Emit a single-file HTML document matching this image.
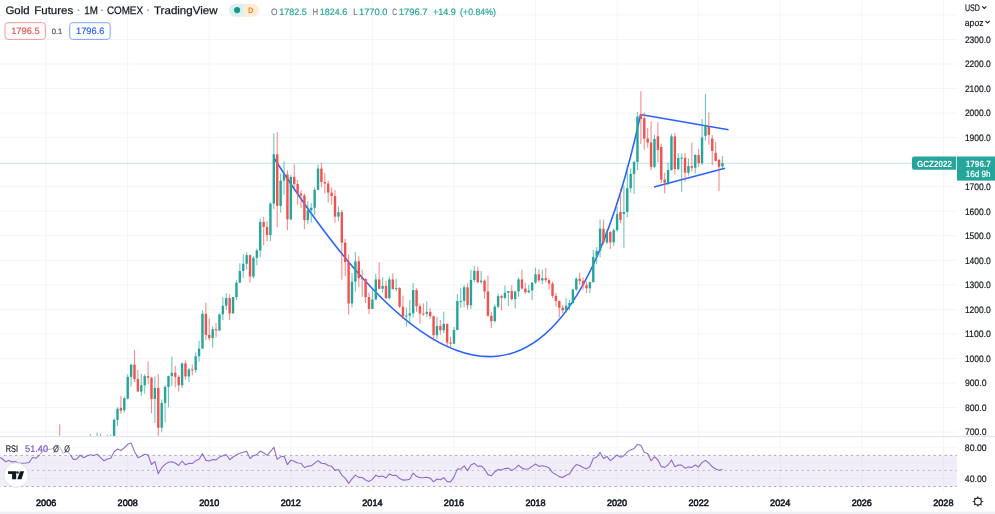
<!DOCTYPE html>
<html><head><meta charset="utf-8"><title>Gold Futures</title>
<style>
html,body{margin:0;padding:0;background:#fff;}
body{width:995px;height:514px;overflow:hidden;position:relative;font-family:"Liberation Sans",sans-serif;color:#131722;}
svg{position:absolute;left:0;top:0;font-family:"Liberation Sans",sans-serif;will-change:transform;text-rendering:geometricPrecision;}
</style></head><body>
<svg width="995" height="514" viewBox="0 0 995 514">
<defs><clipPath id="mainclip"><rect x="0" y="0" width="957" height="436.5"/></clipPath>
<clipPath id="rsiclip"><rect x="0" y="436.5" width="957" height="53.5"/></clipPath></defs>
<line x1="0" x2="957" y1="14.91" y2="14.91" stroke="#f4f5f8" stroke-width="1"/>
<line x1="0" x2="957" y1="39.45" y2="39.45" stroke="#f4f5f8" stroke-width="1"/>
<line x1="0" x2="957" y1="63.99" y2="63.99" stroke="#f4f5f8" stroke-width="1"/>
<line x1="0" x2="957" y1="88.53" y2="88.53" stroke="#f4f5f8" stroke-width="1"/>
<line x1="0" x2="957" y1="113.07" y2="113.07" stroke="#f4f5f8" stroke-width="1"/>
<line x1="0" x2="957" y1="137.61" y2="137.61" stroke="#f4f5f8" stroke-width="1"/>
<line x1="0" x2="957" y1="162.15" y2="162.15" stroke="#f4f5f8" stroke-width="1"/>
<line x1="0" x2="957" y1="186.69" y2="186.69" stroke="#f4f5f8" stroke-width="1"/>
<line x1="0" x2="957" y1="211.23" y2="211.23" stroke="#f4f5f8" stroke-width="1"/>
<line x1="0" x2="957" y1="235.77" y2="235.77" stroke="#f4f5f8" stroke-width="1"/>
<line x1="0" x2="957" y1="260.31" y2="260.31" stroke="#f4f5f8" stroke-width="1"/>
<line x1="0" x2="957" y1="284.85" y2="284.85" stroke="#f4f5f8" stroke-width="1"/>
<line x1="0" x2="957" y1="309.39" y2="309.39" stroke="#f4f5f8" stroke-width="1"/>
<line x1="0" x2="957" y1="333.93" y2="333.93" stroke="#f4f5f8" stroke-width="1"/>
<line x1="0" x2="957" y1="358.47" y2="358.47" stroke="#f4f5f8" stroke-width="1"/>
<line x1="0" x2="957" y1="383.01" y2="383.01" stroke="#f4f5f8" stroke-width="1"/>
<line x1="0" x2="957" y1="407.55" y2="407.55" stroke="#f4f5f8" stroke-width="1"/>
<line x1="0" x2="957" y1="432.09" y2="432.09" stroke="#f4f5f8" stroke-width="1"/>
<line x1="0" x2="957" y1="447.28" y2="447.28" stroke="#f7f8fa" stroke-width="1"/>
<line x1="0" x2="957" y1="462.83" y2="462.83" stroke="#f7f8fa" stroke-width="1"/>
<line x1="0" x2="957" y1="478.38" y2="478.38" stroke="#f7f8fa" stroke-width="1"/>
<line x1="46.14" x2="46.14" y1="0" y2="491.5" stroke="#f4f5f8" stroke-width="1"/>
<line x1="127.70" x2="127.70" y1="0" y2="491.5" stroke="#f4f5f8" stroke-width="1"/>
<line x1="209.26" x2="209.26" y1="0" y2="491.5" stroke="#f4f5f8" stroke-width="1"/>
<line x1="290.83" x2="290.83" y1="0" y2="491.5" stroke="#f4f5f8" stroke-width="1"/>
<line x1="372.39" x2="372.39" y1="0" y2="491.5" stroke="#f4f5f8" stroke-width="1"/>
<line x1="453.96" x2="453.96" y1="0" y2="491.5" stroke="#f4f5f8" stroke-width="1"/>
<line x1="535.52" x2="535.52" y1="0" y2="491.5" stroke="#f4f5f8" stroke-width="1"/>
<line x1="617.08" x2="617.08" y1="0" y2="491.5" stroke="#f4f5f8" stroke-width="1"/>
<line x1="698.65" x2="698.65" y1="0" y2="491.5" stroke="#f4f5f8" stroke-width="1"/>
<line x1="780.21" x2="780.21" y1="0" y2="491.5" stroke="#f4f5f8" stroke-width="1"/>
<line x1="861.78" x2="861.78" y1="0" y2="491.5" stroke="#f4f5f8" stroke-width="1"/>
<line x1="943.34" x2="943.34" y1="0" y2="491.5" stroke="#f4f5f8" stroke-width="1"/>
<line x1="0" x2="912" y1="163.5" y2="163.5" stroke="#26a69a" stroke-width="1" opacity="0.23"/>
<g clip-path="url(#mainclip)"><path d="M274.3,158.5 Q539.6,575.4 640.5,115" fill="none" stroke="#2962ff" stroke-width="1.55"/></g>
<line x1="640.5" y1="114.5" x2="728.5" y2="129.7" stroke="#2962ff" stroke-width="1.55"/>
<line x1="654" y1="186.9" x2="725" y2="168.2" stroke="#2962ff" stroke-width="1.55"/>
<g clip-path="url(#mainclip)"><rect x="59.18" y="424.24" width="1.1" height="23.56" fill="#ef5350" opacity="0.65"/><rect x="58.53" y="441.91" width="2.4" height="3.68" fill="#ef5350"/><rect x="62.58" y="444.36" width="1.1" height="25.52" fill="#ef5350" opacity="0.65"/><rect x="61.93" y="445.59" width="2.4" height="7.12" fill="#ef5350"/><rect x="65.98" y="437.00" width="1.1" height="18.41" fill="#26a69a" opacity="0.65"/><rect x="65.33" y="444.36" width="2.4" height="8.34" fill="#26a69a"/><rect x="69.38" y="441.91" width="1.1" height="11.04" fill="#ef5350" opacity="0.65"/><rect x="68.73" y="444.36" width="2.4" height="3.93" fill="#ef5350"/><rect x="72.77" y="445.59" width="1.1" height="17.18" fill="#ef5350" opacity="0.65"/><rect x="72.12" y="448.29" width="2.4" height="7.36" fill="#ef5350"/><rect x="76.17" y="453.44" width="1.1" height="12.27" fill="#26a69a" opacity="0.65"/><rect x="75.52" y="454.91" width="2.4" height="1.00" fill="#26a69a"/><rect x="79.57" y="444.36" width="1.1" height="9.82" fill="#26a69a" opacity="0.65"/><rect x="78.92" y="443.87" width="2.4" height="11.04" fill="#26a69a"/><rect x="82.97" y="443.13" width="1.1" height="9.82" fill="#ef5350" opacity="0.65"/><rect x="82.32" y="443.87" width="2.4" height="3.44" fill="#ef5350"/><rect x="86.37" y="441.91" width="1.1" height="13.99" fill="#26a69a" opacity="0.65"/><rect x="85.72" y="442.64" width="2.4" height="4.42" fill="#26a69a"/><rect x="89.77" y="434.05" width="1.1" height="12.27" fill="#26a69a" opacity="0.65"/><rect x="89.12" y="438.96" width="2.4" height="3.68" fill="#26a69a"/><rect x="93.17" y="438.23" width="1.1" height="10.06" fill="#ef5350" opacity="0.65"/><rect x="92.52" y="438.96" width="2.4" height="1.00" fill="#ef5350"/><rect x="96.56" y="432.58" width="1.1" height="9.33" fill="#26a69a" opacity="0.65"/><rect x="95.91" y="436.26" width="2.4" height="3.44" fill="#26a69a"/><rect x="99.96" y="433.56" width="1.1" height="10.80" fill="#ef5350" opacity="0.65"/><rect x="99.31" y="436.26" width="2.4" height="4.17" fill="#ef5350"/><rect x="103.36" y="437.73" width="1.1" height="9.33" fill="#ef5350" opacity="0.65"/><rect x="102.71" y="440.43" width="2.4" height="3.93" fill="#ef5350"/><rect x="106.76" y="434.79" width="1.1" height="10.06" fill="#26a69a" opacity="0.65"/><rect x="106.11" y="440.43" width="2.4" height="3.93" fill="#26a69a"/><rect x="110.16" y="434.54" width="1.1" height="11.78" fill="#26a69a" opacity="0.65"/><rect x="109.51" y="438.72" width="2.4" height="1.72" fill="#26a69a"/><rect x="113.56" y="418.59" width="1.1" height="20.37" fill="#26a69a" opacity="0.65"/><rect x="112.91" y="419.82" width="2.4" height="18.90" fill="#26a69a"/><rect x="116.95" y="407.30" width="1.1" height="18.65" fill="#26a69a" opacity="0.65"/><rect x="116.30" y="408.78" width="2.4" height="11.04" fill="#26a69a"/><rect x="120.35" y="395.77" width="1.1" height="17.91" fill="#ef5350" opacity="0.65"/><rect x="119.70" y="407.80" width="2.4" height="2.94" fill="#ef5350"/><rect x="123.75" y="396.51" width="1.1" height="15.95" fill="#26a69a" opacity="0.65"/><rect x="123.10" y="398.22" width="2.4" height="12.02" fill="#26a69a"/><rect x="127.15" y="374.18" width="1.1" height="25.03" fill="#26a69a" opacity="0.65"/><rect x="126.50" y="376.88" width="2.4" height="21.84" fill="#26a69a"/><rect x="130.55" y="364.36" width="1.1" height="22.33" fill="#26a69a" opacity="0.65"/><rect x="129.90" y="364.61" width="2.4" height="12.27" fill="#26a69a"/><rect x="133.95" y="350.13" width="1.1" height="31.90" fill="#ef5350" opacity="0.65"/><rect x="133.30" y="364.61" width="2.4" height="14.48" fill="#ef5350"/><rect x="137.35" y="370.00" width="1.1" height="20.37" fill="#ef5350" opacity="0.65"/><rect x="136.70" y="379.08" width="2.4" height="12.52" fill="#ef5350"/><rect x="140.74" y="373.93" width="1.1" height="22.33" fill="#26a69a" opacity="0.65"/><rect x="140.09" y="385.22" width="2.4" height="6.38" fill="#26a69a"/><rect x="144.14" y="374.18" width="1.1" height="19.39" fill="#26a69a" opacity="0.65"/><rect x="143.49" y="376.14" width="2.4" height="9.08" fill="#26a69a"/><rect x="147.54" y="361.41" width="1.1" height="22.82" fill="#ef5350" opacity="0.65"/><rect x="146.89" y="376.14" width="2.4" height="1.47" fill="#ef5350"/><rect x="150.94" y="376.88" width="1.1" height="36.32" fill="#ef5350" opacity="0.65"/><rect x="150.29" y="377.61" width="2.4" height="21.35" fill="#ef5350"/><rect x="154.34" y="376.63" width="1.1" height="46.38" fill="#26a69a" opacity="0.65"/><rect x="153.69" y="387.92" width="2.4" height="11.04" fill="#26a69a"/><rect x="157.74" y="374.18" width="1.1" height="62.58" fill="#ef5350" opacity="0.65"/><rect x="157.09" y="387.92" width="2.4" height="39.75" fill="#ef5350"/><rect x="161.13" y="399.45" width="1.1" height="32.88" fill="#26a69a" opacity="0.65"/><rect x="160.49" y="402.89" width="2.4" height="24.79" fill="#26a69a"/><rect x="164.53" y="384.97" width="1.1" height="37.06" fill="#26a69a" opacity="0.65"/><rect x="163.88" y="386.94" width="2.4" height="15.95" fill="#26a69a"/><rect x="167.93" y="375.65" width="1.1" height="31.66" fill="#26a69a" opacity="0.65"/><rect x="167.28" y="376.14" width="2.4" height="10.80" fill="#26a69a"/><rect x="171.33" y="356.75" width="1.1" height="29.20" fill="#26a69a" opacity="0.65"/><rect x="170.68" y="372.70" width="2.4" height="3.44" fill="#26a69a"/><rect x="174.73" y="365.83" width="1.1" height="21.60" fill="#ef5350" opacity="0.65"/><rect x="174.08" y="372.70" width="2.4" height="4.17" fill="#ef5350"/><rect x="178.13" y="375.16" width="1.1" height="16.44" fill="#ef5350" opacity="0.65"/><rect x="177.48" y="376.88" width="2.4" height="8.34" fill="#ef5350"/><rect x="181.53" y="362.64" width="1.1" height="25.28" fill="#26a69a" opacity="0.65"/><rect x="180.88" y="363.38" width="2.4" height="21.84" fill="#26a69a"/><rect x="184.92" y="360.43" width="1.1" height="19.39" fill="#ef5350" opacity="0.65"/><rect x="184.27" y="363.38" width="2.4" height="13.01" fill="#ef5350"/><rect x="188.32" y="368.04" width="1.1" height="13.99" fill="#26a69a" opacity="0.65"/><rect x="187.67" y="369.51" width="2.4" height="6.87" fill="#26a69a"/><rect x="191.72" y="364.61" width="1.1" height="10.80" fill="#ef5350" opacity="0.65"/><rect x="191.07" y="369.51" width="2.4" height="1.00" fill="#ef5350"/><rect x="195.12" y="352.33" width="1.1" height="20.37" fill="#26a69a" opacity="0.65"/><rect x="194.47" y="356.26" width="2.4" height="13.74" fill="#26a69a"/><rect x="198.52" y="340.80" width="1.1" height="21.10" fill="#26a69a" opacity="0.65"/><rect x="197.87" y="348.65" width="2.4" height="7.61" fill="#26a69a"/><rect x="201.92" y="310.37" width="1.1" height="37.79" fill="#26a69a" opacity="0.65"/><rect x="201.27" y="313.81" width="2.4" height="34.85" fill="#26a69a"/><rect x="205.32" y="302.76" width="1.1" height="37.30" fill="#ef5350" opacity="0.65"/><rect x="204.67" y="313.81" width="2.4" height="21.10" fill="#ef5350"/><rect x="208.71" y="318.47" width="1.1" height="21.84" fill="#ef5350" opacity="0.65"/><rect x="208.06" y="334.91" width="2.4" height="3.19" fill="#ef5350"/><rect x="212.11" y="326.32" width="1.1" height="21.35" fill="#26a69a" opacity="0.65"/><rect x="211.46" y="329.27" width="2.4" height="8.83" fill="#26a69a"/><rect x="215.51" y="322.89" width="1.1" height="14.72" fill="#ef5350" opacity="0.65"/><rect x="214.86" y="329.27" width="2.4" height="1.23" fill="#ef5350"/><rect x="218.91" y="313.56" width="1.1" height="17.67" fill="#26a69a" opacity="0.65"/><rect x="218.26" y="314.30" width="2.4" height="16.20" fill="#26a69a"/><rect x="222.31" y="297.37" width="1.1" height="22.58" fill="#26a69a" opacity="0.65"/><rect x="221.66" y="305.71" width="2.4" height="8.59" fill="#26a69a"/><rect x="225.71" y="293.19" width="1.1" height="16.69" fill="#26a69a" opacity="0.65"/><rect x="225.06" y="298.10" width="2.4" height="7.61" fill="#26a69a"/><rect x="229.10" y="294.18" width="1.1" height="26.01" fill="#ef5350" opacity="0.65"/><rect x="228.46" y="298.10" width="2.4" height="15.21" fill="#ef5350"/><rect x="232.50" y="296.87" width="1.1" height="16.69" fill="#26a69a" opacity="0.65"/><rect x="231.85" y="297.12" width="2.4" height="16.20" fill="#26a69a"/><rect x="235.90" y="280.43" width="1.1" height="19.63" fill="#26a69a" opacity="0.65"/><rect x="235.25" y="282.64" width="2.4" height="14.48" fill="#26a69a"/><rect x="239.30" y="263.25" width="1.1" height="19.88" fill="#26a69a" opacity="0.65"/><rect x="238.65" y="270.86" width="2.4" height="11.78" fill="#26a69a"/><rect x="242.70" y="254.18" width="1.1" height="23.56" fill="#26a69a" opacity="0.65"/><rect x="242.05" y="263.75" width="2.4" height="7.12" fill="#26a69a"/><rect x="246.10" y="252.46" width="1.1" height="17.18" fill="#26a69a" opacity="0.65"/><rect x="245.45" y="255.16" width="2.4" height="8.59" fill="#26a69a"/><rect x="249.50" y="254.42" width="1.1" height="28.22" fill="#ef5350" opacity="0.65"/><rect x="248.85" y="255.16" width="2.4" height="21.35" fill="#ef5350"/><rect x="252.89" y="255.89" width="1.1" height="22.58" fill="#26a69a" opacity="0.65"/><rect x="252.24" y="257.86" width="2.4" height="18.65" fill="#26a69a"/><rect x="256.29" y="248.53" width="1.1" height="16.69" fill="#26a69a" opacity="0.65"/><rect x="255.64" y="250.49" width="2.4" height="7.36" fill="#26a69a"/><rect x="259.69" y="218.59" width="1.1" height="38.53" fill="#26a69a" opacity="0.65"/><rect x="259.04" y="222.03" width="2.4" height="28.47" fill="#26a69a"/><rect x="263.09" y="216.87" width="1.1" height="28.22" fill="#ef5350" opacity="0.65"/><rect x="262.44" y="222.03" width="2.4" height="4.91" fill="#ef5350"/><rect x="266.49" y="221.29" width="1.1" height="19.88" fill="#ef5350" opacity="0.65"/><rect x="265.84" y="226.94" width="2.4" height="8.10" fill="#ef5350"/><rect x="269.89" y="202.15" width="1.1" height="39.02" fill="#26a69a" opacity="0.65"/><rect x="269.24" y="203.62" width="2.4" height="31.41" fill="#26a69a"/><rect x="273.29" y="133.44" width="1.1" height="75.83" fill="#26a69a" opacity="0.65"/><rect x="272.64" y="154.30" width="2.4" height="49.33" fill="#26a69a"/><rect x="276.68" y="131.97" width="1.1" height="95.22" fill="#ef5350" opacity="0.65"/><rect x="276.03" y="154.30" width="2.4" height="51.53" fill="#ef5350"/><rect x="280.08" y="173.44" width="1.1" height="39.02" fill="#26a69a" opacity="0.65"/><rect x="279.43" y="180.56" width="2.4" height="25.28" fill="#26a69a"/><rect x="283.48" y="161.17" width="1.1" height="33.62" fill="#26a69a" opacity="0.65"/><rect x="282.83" y="174.42" width="2.4" height="6.13" fill="#26a69a"/><rect x="286.88" y="170.25" width="1.1" height="59.88" fill="#ef5350" opacity="0.65"/><rect x="286.23" y="174.42" width="2.4" height="44.91" fill="#ef5350"/><rect x="290.28" y="175.16" width="1.1" height="45.15" fill="#26a69a" opacity="0.65"/><rect x="289.63" y="176.87" width="2.4" height="42.45" fill="#26a69a"/><rect x="293.68" y="164.11" width="1.1" height="25.28" fill="#ef5350" opacity="0.65"/><rect x="293.03" y="176.87" width="2.4" height="7.12" fill="#ef5350"/><rect x="297.07" y="180.06" width="1.1" height="24.54" fill="#ef5350" opacity="0.65"/><rect x="296.43" y="183.99" width="2.4" height="9.57" fill="#ef5350"/><rect x="300.47" y="190.37" width="1.1" height="17.67" fill="#ef5350" opacity="0.65"/><rect x="299.82" y="193.56" width="2.4" height="1.96" fill="#ef5350"/><rect x="303.87" y="193.56" width="1.1" height="35.58" fill="#ef5350" opacity="0.65"/><rect x="303.22" y="195.52" width="2.4" height="24.54" fill="#ef5350"/><rect x="307.27" y="200.92" width="1.1" height="23.07" fill="#26a69a" opacity="0.65"/><rect x="306.62" y="210.25" width="2.4" height="9.82" fill="#26a69a"/><rect x="310.67" y="203.13" width="1.1" height="19.39" fill="#26a69a" opacity="0.65"/><rect x="310.02" y="207.79" width="2.4" height="2.45" fill="#26a69a"/><rect x="314.07" y="187.67" width="1.1" height="27.48" fill="#26a69a" opacity="0.65"/><rect x="313.42" y="189.88" width="2.4" height="17.91" fill="#26a69a"/><rect x="317.47" y="164.60" width="1.1" height="25.77" fill="#26a69a" opacity="0.65"/><rect x="316.82" y="168.53" width="2.4" height="21.35" fill="#26a69a"/><rect x="320.86" y="162.64" width="1.1" height="24.54" fill="#ef5350" opacity="0.65"/><rect x="320.21" y="168.53" width="2.4" height="13.50" fill="#ef5350"/><rect x="324.26" y="172.95" width="1.1" height="20.61" fill="#ef5350" opacity="0.65"/><rect x="323.61" y="182.03" width="2.4" height="1.47" fill="#ef5350"/><rect x="327.66" y="180.56" width="1.1" height="21.84" fill="#ef5350" opacity="0.65"/><rect x="327.01" y="183.50" width="2.4" height="9.08" fill="#ef5350"/><rect x="331.06" y="187.43" width="1.1" height="17.42" fill="#ef5350" opacity="0.65"/><rect x="330.41" y="192.58" width="2.4" height="3.44" fill="#ef5350"/><rect x="334.46" y="190.13" width="1.1" height="32.39" fill="#ef5350" opacity="0.65"/><rect x="333.81" y="196.02" width="2.4" height="20.61" fill="#ef5350"/><rect x="337.86" y="206.32" width="1.1" height="14.72" fill="#26a69a" opacity="0.65"/><rect x="337.21" y="212.21" width="2.4" height="4.42" fill="#26a69a"/><rect x="341.26" y="210.00" width="1.1" height="69.69" fill="#ef5350" opacity="0.65"/><rect x="340.61" y="212.21" width="2.4" height="30.43" fill="#ef5350"/><rect x="344.65" y="238.71" width="1.1" height="37.30" fill="#ef5350" opacity="0.65"/><rect x="344.00" y="242.64" width="2.4" height="19.39" fill="#ef5350"/><rect x="348.05" y="254.42" width="1.1" height="60.12" fill="#ef5350" opacity="0.65"/><rect x="347.40" y="262.03" width="2.4" height="41.47" fill="#ef5350"/><rect x="351.45" y="273.07" width="1.1" height="34.36" fill="#26a69a" opacity="0.65"/><rect x="350.80" y="281.66" width="2.4" height="21.84" fill="#26a69a"/><rect x="354.85" y="251.97" width="1.1" height="39.75" fill="#26a69a" opacity="0.65"/><rect x="354.20" y="261.29" width="2.4" height="20.37" fill="#26a69a"/><rect x="358.25" y="256.38" width="1.1" height="30.68" fill="#ef5350" opacity="0.65"/><rect x="357.60" y="261.29" width="2.4" height="16.93" fill="#ef5350"/><rect x="361.65" y="269.64" width="1.1" height="27.24" fill="#ef5350" opacity="0.65"/><rect x="361.00" y="278.22" width="2.4" height="1.00" fill="#ef5350"/><rect x="365.04" y="278.22" width="1.1" height="24.79" fill="#ef5350" opacity="0.65"/><rect x="364.39" y="278.96" width="2.4" height="18.16" fill="#ef5350"/><rect x="368.44" y="292.70" width="1.1" height="21.35" fill="#ef5350" opacity="0.65"/><rect x="367.79" y="297.12" width="2.4" height="11.78" fill="#ef5350"/><rect x="371.84" y="289.76" width="1.1" height="19.14" fill="#26a69a" opacity="0.65"/><rect x="371.19" y="299.57" width="2.4" height="9.33" fill="#26a69a"/><rect x="375.24" y="273.81" width="1.1" height="26.26" fill="#26a69a" opacity="0.65"/><rect x="374.59" y="279.45" width="2.4" height="20.12" fill="#26a69a"/><rect x="378.64" y="262.27" width="1.1" height="27.24" fill="#ef5350" opacity="0.65"/><rect x="377.99" y="279.45" width="2.4" height="9.33" fill="#ef5350"/><rect x="382.04" y="277.24" width="1.1" height="15.46" fill="#26a69a" opacity="0.65"/><rect x="381.39" y="285.83" width="2.4" height="2.94" fill="#26a69a"/><rect x="385.44" y="280.92" width="1.1" height="18.16" fill="#ef5350" opacity="0.65"/><rect x="384.79" y="285.83" width="2.4" height="12.27" fill="#ef5350"/><rect x="388.83" y="276.51" width="1.1" height="23.07" fill="#26a69a" opacity="0.65"/><rect x="388.18" y="279.45" width="2.4" height="18.65" fill="#26a69a"/><rect x="392.23" y="273.32" width="1.1" height="16.20" fill="#ef5350" opacity="0.65"/><rect x="391.58" y="279.45" width="2.4" height="9.57" fill="#ef5350"/><rect x="395.63" y="278.72" width="1.1" height="12.76" fill="#26a69a" opacity="0.65"/><rect x="394.98" y="288.04" width="2.4" height="1.00" fill="#26a69a"/><rect x="399.03" y="287.06" width="1.1" height="21.10" fill="#ef5350" opacity="0.65"/><rect x="398.38" y="288.04" width="2.4" height="18.65" fill="#ef5350"/><rect x="402.43" y="295.65" width="1.1" height="23.56" fill="#ef5350" opacity="0.65"/><rect x="401.78" y="306.69" width="2.4" height="9.57" fill="#ef5350"/><rect x="405.83" y="307.43" width="1.1" height="19.14" fill="#26a69a" opacity="0.65"/><rect x="405.18" y="315.52" width="2.4" height="1.00" fill="#26a69a"/><rect x="409.23" y="299.82" width="1.1" height="24.05" fill="#26a69a" opacity="0.65"/><rect x="408.58" y="313.32" width="2.4" height="2.21" fill="#26a69a"/><rect x="412.62" y="282.89" width="1.1" height="34.60" fill="#26a69a" opacity="0.65"/><rect x="411.97" y="290.00" width="2.4" height="23.31" fill="#26a69a"/><rect x="416.02" y="288.29" width="1.1" height="23.56" fill="#ef5350" opacity="0.65"/><rect x="415.37" y="290.00" width="2.4" height="16.20" fill="#ef5350"/><rect x="419.42" y="303.50" width="1.1" height="20.37" fill="#ef5350" opacity="0.65"/><rect x="418.77" y="306.20" width="2.4" height="7.36" fill="#ef5350"/><rect x="422.82" y="303.25" width="1.1" height="12.52" fill="#ef5350" opacity="0.65"/><rect x="422.17" y="313.56" width="2.4" height="1.00" fill="#ef5350"/><rect x="426.22" y="301.29" width="1.1" height="15.95" fill="#26a69a" opacity="0.65"/><rect x="425.57" y="311.84" width="2.4" height="1.96" fill="#26a69a"/><rect x="429.62" y="307.92" width="1.1" height="10.80" fill="#ef5350" opacity="0.65"/><rect x="428.97" y="311.84" width="2.4" height="4.42" fill="#ef5350"/><rect x="433.01" y="315.52" width="1.1" height="25.28" fill="#ef5350" opacity="0.65"/><rect x="432.37" y="316.26" width="2.4" height="18.90" fill="#ef5350"/><rect x="436.41" y="316.75" width="1.1" height="22.09" fill="#26a69a" opacity="0.65"/><rect x="435.76" y="326.08" width="2.4" height="9.08" fill="#26a69a"/><rect x="439.81" y="319.94" width="1.1" height="14.72" fill="#ef5350" opacity="0.65"/><rect x="439.16" y="326.08" width="2.4" height="4.17" fill="#ef5350"/><rect x="443.21" y="311.60" width="1.1" height="21.60" fill="#26a69a" opacity="0.65"/><rect x="442.56" y="323.87" width="2.4" height="6.38" fill="#26a69a"/><rect x="446.61" y="323.38" width="1.1" height="22.58" fill="#ef5350" opacity="0.65"/><rect x="445.96" y="323.87" width="2.4" height="18.65" fill="#ef5350"/><rect x="450.01" y="336.63" width="1.1" height="10.80" fill="#ef5350" opacity="0.65"/><rect x="449.36" y="342.52" width="2.4" height="1.23" fill="#ef5350"/><rect x="453.41" y="327.06" width="1.1" height="16.44" fill="#26a69a" opacity="0.65"/><rect x="452.76" y="330.00" width="2.4" height="13.74" fill="#26a69a"/><rect x="456.80" y="293.93" width="1.1" height="36.32" fill="#26a69a" opacity="0.65"/><rect x="456.15" y="301.05" width="2.4" height="28.96" fill="#26a69a"/><rect x="460.20" y="288.04" width="1.1" height="19.88" fill="#26a69a" opacity="0.65"/><rect x="459.55" y="300.80" width="2.4" height="1.00" fill="#26a69a"/><rect x="463.60" y="285.10" width="1.1" height="22.33" fill="#26a69a" opacity="0.65"/><rect x="462.95" y="287.30" width="2.4" height="13.50" fill="#26a69a"/><rect x="467.00" y="283.38" width="1.1" height="26.26" fill="#ef5350" opacity="0.65"/><rect x="466.35" y="287.30" width="2.4" height="17.91" fill="#ef5350"/><rect x="470.40" y="269.64" width="1.1" height="39.26" fill="#26a69a" opacity="0.65"/><rect x="469.75" y="279.94" width="2.4" height="25.28" fill="#26a69a"/><rect x="473.80" y="265.95" width="1.1" height="16.44" fill="#26a69a" opacity="0.65"/><rect x="473.15" y="270.86" width="2.4" height="9.08" fill="#26a69a"/><rect x="477.20" y="266.69" width="1.1" height="16.69" fill="#ef5350" opacity="0.65"/><rect x="476.55" y="270.86" width="2.4" height="11.29" fill="#ef5350"/><rect x="480.59" y="270.86" width="1.1" height="12.76" fill="#26a69a" opacity="0.65"/><rect x="479.94" y="280.68" width="2.4" height="1.47" fill="#26a69a"/><rect x="483.99" y="279.45" width="1.1" height="19.39" fill="#ef5350" opacity="0.65"/><rect x="483.34" y="280.68" width="2.4" height="10.80" fill="#ef5350"/><rect x="487.39" y="275.52" width="1.1" height="41.23" fill="#ef5350" opacity="0.65"/><rect x="486.74" y="291.48" width="2.4" height="24.29" fill="#ef5350"/><rect x="490.79" y="311.84" width="1.1" height="16.20" fill="#ef5350" opacity="0.65"/><rect x="490.14" y="315.77" width="2.4" height="5.40" fill="#ef5350"/><rect x="494.19" y="304.48" width="1.1" height="18.16" fill="#26a69a" opacity="0.65"/><rect x="493.54" y="306.69" width="2.4" height="14.48" fill="#26a69a"/><rect x="497.59" y="293.44" width="1.1" height="14.48" fill="#26a69a" opacity="0.65"/><rect x="496.94" y="296.14" width="2.4" height="10.55" fill="#26a69a"/><rect x="500.98" y="294.42" width="1.1" height="16.20" fill="#ef5350" opacity="0.65"/><rect x="500.33" y="296.14" width="2.4" height="1.72" fill="#ef5350"/><rect x="504.38" y="285.59" width="1.1" height="13.99" fill="#26a69a" opacity="0.65"/><rect x="503.73" y="292.70" width="2.4" height="5.15" fill="#26a69a"/><rect x="507.78" y="291.23" width="1.1" height="14.72" fill="#26a69a" opacity="0.65"/><rect x="507.13" y="290.99" width="2.4" height="1.72" fill="#26a69a"/><rect x="511.18" y="285.34" width="1.1" height="15.21" fill="#ef5350" opacity="0.65"/><rect x="510.53" y="290.99" width="2.4" height="8.10" fill="#ef5350"/><rect x="514.58" y="291.23" width="1.1" height="17.18" fill="#26a69a" opacity="0.65"/><rect x="513.93" y="291.48" width="2.4" height="7.61" fill="#26a69a"/><rect x="517.98" y="277.24" width="1.1" height="19.63" fill="#26a69a" opacity="0.65"/><rect x="517.33" y="279.45" width="2.4" height="12.02" fill="#26a69a"/><rect x="521.38" y="269.64" width="1.1" height="19.88" fill="#ef5350" opacity="0.65"/><rect x="520.73" y="279.45" width="2.4" height="9.08" fill="#ef5350"/><rect x="524.77" y="282.64" width="1.1" height="11.29" fill="#ef5350" opacity="0.65"/><rect x="524.12" y="288.53" width="2.4" height="3.68" fill="#ef5350"/><rect x="528.17" y="284.85" width="1.1" height="8.59" fill="#26a69a" opacity="0.65"/><rect x="527.52" y="290.49" width="2.4" height="1.72" fill="#26a69a"/><rect x="531.57" y="282.15" width="1.1" height="17.91" fill="#26a69a" opacity="0.65"/><rect x="530.92" y="282.64" width="2.4" height="7.85" fill="#26a69a"/><rect x="534.97" y="267.67" width="1.1" height="16.20" fill="#26a69a" opacity="0.65"/><rect x="534.32" y="274.30" width="2.4" height="8.34" fill="#26a69a"/><rect x="538.37" y="269.14" width="1.1" height="13.50" fill="#ef5350" opacity="0.65"/><rect x="537.72" y="274.30" width="2.4" height="6.13" fill="#ef5350"/><rect x="541.77" y="269.64" width="1.1" height="14.48" fill="#26a69a" opacity="0.65"/><rect x="541.12" y="278.22" width="2.4" height="2.21" fill="#26a69a"/><rect x="545.17" y="267.92" width="1.1" height="14.48" fill="#ef5350" opacity="0.65"/><rect x="544.52" y="278.22" width="2.4" height="1.96" fill="#ef5350"/><rect x="548.56" y="278.47" width="1.1" height="11.04" fill="#ef5350" opacity="0.65"/><rect x="547.91" y="280.19" width="2.4" height="3.44" fill="#ef5350"/><rect x="551.96" y="281.66" width="1.1" height="16.44" fill="#ef5350" opacity="0.65"/><rect x="551.31" y="283.62" width="2.4" height="12.27" fill="#ef5350"/><rect x="555.36" y="292.95" width="1.1" height="13.74" fill="#ef5350" opacity="0.65"/><rect x="554.71" y="295.89" width="2.4" height="5.15" fill="#ef5350"/><rect x="558.76" y="300.56" width="1.1" height="16.93" fill="#ef5350" opacity="0.65"/><rect x="558.11" y="301.05" width="2.4" height="6.63" fill="#ef5350"/><rect x="562.16" y="304.97" width="1.1" height="8.34" fill="#ef5350" opacity="0.65"/><rect x="561.51" y="307.67" width="2.4" height="2.70" fill="#ef5350"/><rect x="565.56" y="298.10" width="1.1" height="14.72" fill="#26a69a" opacity="0.65"/><rect x="564.91" y="305.71" width="2.4" height="4.66" fill="#26a69a"/><rect x="568.96" y="299.57" width="1.1" height="10.80" fill="#26a69a" opacity="0.65"/><rect x="568.30" y="303.01" width="2.4" height="2.70" fill="#26a69a"/><rect x="572.35" y="288.78" width="1.1" height="15.46" fill="#26a69a" opacity="0.65"/><rect x="571.70" y="289.51" width="2.4" height="13.50" fill="#26a69a"/><rect x="575.75" y="277.24" width="1.1" height="13.74" fill="#26a69a" opacity="0.65"/><rect x="575.10" y="278.72" width="2.4" height="10.80" fill="#26a69a"/><rect x="579.15" y="272.58" width="1.1" height="12.27" fill="#ef5350" opacity="0.65"/><rect x="578.50" y="278.72" width="2.4" height="2.21" fill="#ef5350"/><rect x="582.55" y="277.49" width="1.1" height="12.02" fill="#ef5350" opacity="0.65"/><rect x="581.90" y="280.92" width="2.4" height="4.17" fill="#ef5350"/><rect x="585.95" y="281.41" width="1.1" height="11.53" fill="#ef5350" opacity="0.65"/><rect x="585.30" y="285.10" width="2.4" height="3.19" fill="#ef5350"/><rect x="589.35" y="281.91" width="1.1" height="11.04" fill="#26a69a" opacity="0.65"/><rect x="588.70" y="282.15" width="2.4" height="6.13" fill="#26a69a"/><rect x="592.74" y="250.00" width="1.1" height="32.64" fill="#26a69a" opacity="0.65"/><rect x="592.09" y="256.87" width="2.4" height="25.28" fill="#26a69a"/><rect x="596.14" y="247.06" width="1.1" height="17.18" fill="#26a69a" opacity="0.65"/><rect x="595.49" y="250.98" width="2.4" height="5.89" fill="#26a69a"/><rect x="599.54" y="219.57" width="1.1" height="37.79" fill="#26a69a" opacity="0.65"/><rect x="598.89" y="228.65" width="2.4" height="22.33" fill="#26a69a"/><rect x="602.94" y="219.57" width="1.1" height="24.79" fill="#ef5350" opacity="0.65"/><rect x="602.29" y="228.65" width="2.4" height="13.74" fill="#ef5350"/><rect x="606.34" y="229.63" width="1.1" height="14.72" fill="#26a69a" opacity="0.65"/><rect x="605.69" y="232.09" width="2.4" height="10.31" fill="#26a69a"/><rect x="609.74" y="231.11" width="1.1" height="17.91" fill="#ef5350" opacity="0.65"/><rect x="609.09" y="232.09" width="2.4" height="10.31" fill="#ef5350"/><rect x="613.14" y="228.41" width="1.1" height="17.42" fill="#26a69a" opacity="0.65"/><rect x="612.49" y="230.13" width="2.4" height="12.27" fill="#26a69a"/><rect x="616.53" y="206.57" width="1.1" height="25.03" fill="#26a69a" opacity="0.65"/><rect x="615.88" y="214.17" width="2.4" height="15.95" fill="#26a69a"/><rect x="619.93" y="188.65" width="1.1" height="34.60" fill="#ef5350" opacity="0.65"/><rect x="619.28" y="211.97" width="2.4" height="7.85" fill="#ef5350"/><rect x="623.33" y="185.46" width="1.1" height="62.33" fill="#26a69a" opacity="0.65"/><rect x="622.68" y="211.97" width="2.4" height="1.96" fill="#26a69a"/><rect x="626.73" y="164.85" width="1.1" height="52.27" fill="#26a69a" opacity="0.65"/><rect x="626.08" y="188.16" width="2.4" height="23.80" fill="#26a69a"/><rect x="630.13" y="168.29" width="1.1" height="24.29" fill="#26a69a" opacity="0.65"/><rect x="629.48" y="173.93" width="2.4" height="14.23" fill="#26a69a"/><rect x="633.53" y="161.17" width="1.1" height="32.64" fill="#26a69a" opacity="0.65"/><rect x="632.88" y="161.90" width="2.4" height="12.02" fill="#26a69a"/><rect x="636.93" y="111.84" width="1.1" height="58.41" fill="#26a69a" opacity="0.65"/><rect x="636.27" y="116.51" width="2.4" height="45.40" fill="#26a69a"/><rect x="640.32" y="91.23" width="1.1" height="52.76" fill="#ef5350" opacity="0.65"/><rect x="639.67" y="114.05" width="2.4" height="4.91" fill="#ef5350"/><rect x="643.72" y="112.82" width="1.1" height="36.81" fill="#ef5350" opacity="0.65"/><rect x="643.07" y="118.22" width="2.4" height="20.37" fill="#ef5350"/><rect x="647.12" y="128.04" width="1.1" height="19.63" fill="#ef5350" opacity="0.65"/><rect x="646.47" y="138.59" width="2.4" height="3.93" fill="#ef5350"/><rect x="650.52" y="121.41" width="1.1" height="48.83" fill="#ef5350" opacity="0.65"/><rect x="649.87" y="142.52" width="2.4" height="24.29" fill="#ef5350"/><rect x="653.92" y="134.67" width="1.1" height="33.37" fill="#26a69a" opacity="0.65"/><rect x="653.27" y="138.84" width="2.4" height="27.98" fill="#26a69a"/><rect x="657.32" y="122.15" width="1.1" height="40.00" fill="#ef5350" opacity="0.65"/><rect x="656.67" y="136.38" width="2.4" height="13.50" fill="#ef5350"/><rect x="660.71" y="143.75" width="1.1" height="39.26" fill="#ef5350" opacity="0.65"/><rect x="660.06" y="146.94" width="2.4" height="32.64" fill="#ef5350"/><rect x="664.11" y="172.70" width="1.1" height="20.61" fill="#ef5350" opacity="0.65"/><rect x="663.46" y="179.57" width="2.4" height="3.19" fill="#ef5350"/><rect x="667.51" y="162.64" width="1.1" height="22.82" fill="#26a69a" opacity="0.65"/><rect x="666.86" y="170.00" width="2.4" height="12.76" fill="#26a69a"/><rect x="670.91" y="133.68" width="1.1" height="37.06" fill="#26a69a" opacity="0.65"/><rect x="670.26" y="136.38" width="2.4" height="33.62" fill="#26a69a"/><rect x="674.31" y="132.95" width="1.1" height="41.47" fill="#ef5350" opacity="0.65"/><rect x="673.66" y="136.38" width="2.4" height="32.64" fill="#ef5350"/><rect x="677.71" y="153.07" width="1.1" height="17.42" fill="#26a69a" opacity="0.65"/><rect x="677.06" y="157.98" width="2.4" height="11.04" fill="#26a69a"/><rect x="681.11" y="153.32" width="1.1" height="38.77" fill="#26a69a" opacity="0.65"/><rect x="680.46" y="157.73" width="2.4" height="1.00" fill="#26a69a"/><rect x="684.50" y="153.07" width="1.1" height="28.47" fill="#ef5350" opacity="0.65"/><rect x="683.85" y="157.73" width="2.4" height="14.97" fill="#ef5350"/><rect x="687.90" y="158.47" width="1.1" height="16.93" fill="#26a69a" opacity="0.65"/><rect x="687.25" y="166.08" width="2.4" height="6.63" fill="#26a69a"/><rect x="691.30" y="142.52" width="1.1" height="28.96" fill="#ef5350" opacity="0.65"/><rect x="690.65" y="166.08" width="2.4" height="1.72" fill="#ef5350"/><rect x="694.70" y="154.05" width="1.1" height="19.63" fill="#26a69a" opacity="0.65"/><rect x="694.05" y="155.03" width="2.4" height="12.76" fill="#26a69a"/><rect x="698.10" y="148.90" width="1.1" height="18.16" fill="#ef5350" opacity="0.65"/><rect x="697.45" y="155.03" width="2.4" height="8.10" fill="#ef5350"/><rect x="701.50" y="118.96" width="1.1" height="46.14" fill="#26a69a" opacity="0.65"/><rect x="700.85" y="137.61" width="2.4" height="25.52" fill="#26a69a"/><rect x="704.90" y="93.93" width="1.1" height="46.63" fill="#26a69a" opacity="0.65"/><rect x="704.25" y="124.85" width="2.4" height="11.04" fill="#26a69a"/><rect x="708.29" y="112.33" width="1.1" height="32.39" fill="#ef5350" opacity="0.65"/><rect x="707.64" y="126.81" width="2.4" height="8.10" fill="#ef5350"/><rect x="711.69" y="135.16" width="1.1" height="30.18" fill="#ef5350" opacity="0.65"/><rect x="711.04" y="138.59" width="2.4" height="12.27" fill="#ef5350"/><rect x="715.09" y="142.03" width="1.1" height="19.39" fill="#ef5350" opacity="0.65"/><rect x="714.44" y="152.82" width="2.4" height="8.10" fill="#ef5350"/><rect x="718.49" y="158.71" width="1.1" height="32.39" fill="#ef5350" opacity="0.65"/><rect x="717.84" y="159.94" width="2.4" height="6.87" fill="#ef5350"/><rect x="721.89" y="156.11" width="1.1" height="13.40" fill="#26a69a" opacity="0.65"/><rect x="721.24" y="162.96" width="2.4" height="3.48" fill="#26a69a"/></g>
<rect x="0" y="455.4" width="957" height="31.1" fill="#7e57c2" opacity="0.1"/>
<line x1="0.5" x2="957" y1="455.4" y2="455.4" stroke="#787b86" stroke-width="1" stroke-dasharray="2.3 3.2" stroke-dashoffset="2" opacity="0.62"/>
<line x1="0.5" x2="957" y1="470.45" y2="470.45" stroke="#787b86" stroke-width="1" stroke-dasharray="2.3 3.2" stroke-dashoffset="2" opacity="0.42"/>
<line x1="0.5" x2="957" y1="486.5" y2="486.5" stroke="#787b86" stroke-width="1" stroke-dasharray="2.3 3.2" stroke-dashoffset="2" opacity="0.62"/>
<g clip-path="url(#rsiclip)"><polyline points="-28.63,459.05 -25.23,468.10 -21.83,466.94 -18.44,467.14 -15.04,467.59 -11.64,464.13 -8.24,462.45 -4.84,460.99 -1.44,457.00 1.96,458.50 5.35,461.70 8.75,460.40 12.15,461.90 15.55,461.50 18.95,463.40 22.35,463.20 25.75,463.00 29.14,462.50 32.54,457.50 35.94,458.30 39.34,455.00 42.74,451.50 46.14,449.10 49.53,449.40 52.93,448.50 56.33,445.00 59.73,447.21 63.13,453.33 66.53,450.95 69.93,454.05 73.32,459.40 76.72,459.12 80.12,455.21 83.52,457.68 86.92,456.06 90.32,454.83 93.72,455.42 97.11,454.21 100.51,457.68 103.91,460.78 107.31,459.02 110.71,458.26 114.11,451.70 117.50,449.01 120.90,450.53 124.30,447.76 127.70,444.35 131.10,442.88 134.50,451.46 137.90,457.67 141.29,456.23 144.69,454.31 148.09,455.06 151.49,464.54 154.89,461.63 158.29,473.85 161.69,467.69 165.08,464.37 168.48,462.32 171.88,461.67 175.28,462.96 178.68,465.50 182.08,460.99 185.47,464.82 188.87,463.39 192.27,463.55 195.67,460.67 199.07,459.19 202.47,453.66 205.87,460.14 209.26,461.06 212.66,459.52 216.06,459.91 219.46,457.10 222.86,455.74 226.26,454.56 229.66,459.79 233.05,457.03 236.45,454.84 239.85,453.21 243.25,452.27 246.65,451.16 250.05,458.51 253.44,455.67 256.84,454.64 260.24,451.15 263.64,452.76 267.04,455.40 270.44,451.54 273.84,447.26 277.23,459.42 280.63,456.83 284.03,456.23 287.43,464.67 290.83,460.09 294.23,461.30 297.62,462.95 301.02,463.30 304.42,467.53 307.82,466.17 311.22,465.82 314.62,463.31 318.02,460.58 321.41,463.29 324.81,463.59 328.21,465.49 331.61,466.22 335.01,470.40 338.41,469.55 341.81,475.12 345.20,478.11 348.60,483.36 352.00,478.89 355.40,475.11 358.80,477.41 362.20,477.51 365.59,479.96 368.99,481.46 372.39,479.39 375.79,475.20 379.19,476.64 382.59,476.01 385.99,478.00 389.38,473.89 392.78,475.56 396.18,475.33 399.58,478.58 402.98,480.12 406.38,479.92 409.78,479.29 413.17,473.11 416.57,476.33 419.97,477.71 423.37,477.76 426.77,477.17 430.17,478.13 433.56,481.92 436.96,478.97 440.36,479.83 443.76,477.69 447.16,481.59 450.56,481.83 453.96,477.11 457.35,469.11 460.75,469.05 464.15,465.81 467.55,470.63 470.95,465.04 474.35,463.29 477.75,466.33 481.14,466.01 484.54,468.95 487.94,474.64 491.34,475.78 494.74,471.99 498.14,469.45 501.53,469.89 504.93,468.58 508.33,468.14 511.73,470.53 515.13,468.38 518.53,465.22 521.93,468.12 525.32,469.27 528.72,468.75 532.12,466.40 535.52,464.05 538.92,466.37 542.32,465.69 545.72,466.49 549.11,467.92 552.51,472.62 555.91,474.41 559.31,476.62 562.71,477.51 566.11,475.32 569.50,474.06 572.90,468.36 576.30,464.55 579.70,465.56 583.10,467.47 586.50,468.93 589.90,466.44 593.29,458.49 596.69,457.04 600.09,452.44 603.49,458.57 606.89,456.42 610.29,460.62 613.69,457.96 617.08,454.96 620.48,457.24 623.88,455.74 627.28,451.87 630.68,449.97 634.08,448.54 637.48,444.46 640.87,445.36 644.27,452.23 647.67,453.52 651.07,460.83 654.47,456.77 657.87,459.72 661.26,466.66 664.66,467.34 668.06,465.06 671.46,459.94 674.86,466.79 678.26,465.11 681.66,465.07 685.05,468.19 688.45,467.01 691.85,467.39 695.25,465.00 698.65,466.95 702.05,462.40 705.45,460.41 708.84,462.97 712.24,466.78 715.64,469.04 719.04,470.34 722.44,469.48" fill="none" stroke="#7e57c2" stroke-width="1.1" stroke-linejoin="round" opacity="0.86"/></g>
<rect x="0" y="435.9" width="995" height="1.2" fill="#e0e3eb"/>
<rect x="0" y="511.7" width="995" height="1.3" fill="#edeff3"/>
<rect x="0" y="513" width="995" height="1" fill="#f2f3f7"/>
<text x="964.90" y="42.85" font-size="9.4" textLength="25.90" lengthAdjust="spacingAndGlyphs" fill="#131722" font-weight="normal" stroke="#131722" stroke-width="0.2">2300.0</text>
<text x="964.90" y="67.39" font-size="9.4" textLength="25.90" lengthAdjust="spacingAndGlyphs" fill="#131722" font-weight="normal" stroke="#131722" stroke-width="0.2">2200.0</text>
<text x="964.90" y="91.93" font-size="9.4" textLength="25.90" lengthAdjust="spacingAndGlyphs" fill="#131722" font-weight="normal" stroke="#131722" stroke-width="0.2">2100.0</text>
<text x="964.90" y="116.47" font-size="9.4" textLength="25.90" lengthAdjust="spacingAndGlyphs" fill="#131722" font-weight="normal" stroke="#131722" stroke-width="0.2">2000.0</text>
<text x="964.90" y="141.01" font-size="9.4" textLength="25.90" lengthAdjust="spacingAndGlyphs" fill="#131722" font-weight="normal" stroke="#131722" stroke-width="0.2">1900.0</text>
<text x="964.90" y="165.55" font-size="9.4" textLength="25.90" lengthAdjust="spacingAndGlyphs" fill="#131722" font-weight="normal" stroke="#131722" stroke-width="0.2">1800.0</text>
<text x="964.90" y="190.09" font-size="9.4" textLength="25.90" lengthAdjust="spacingAndGlyphs" fill="#131722" font-weight="normal" stroke="#131722" stroke-width="0.2">1700.0</text>
<text x="964.90" y="214.63" font-size="9.4" textLength="25.90" lengthAdjust="spacingAndGlyphs" fill="#131722" font-weight="normal" stroke="#131722" stroke-width="0.2">1600.0</text>
<text x="964.90" y="239.17" font-size="9.4" textLength="25.90" lengthAdjust="spacingAndGlyphs" fill="#131722" font-weight="normal" stroke="#131722" stroke-width="0.2">1500.0</text>
<text x="964.90" y="263.71" font-size="9.4" textLength="25.90" lengthAdjust="spacingAndGlyphs" fill="#131722" font-weight="normal" stroke="#131722" stroke-width="0.2">1400.0</text>
<text x="964.90" y="288.25" font-size="9.4" textLength="25.90" lengthAdjust="spacingAndGlyphs" fill="#131722" font-weight="normal" stroke="#131722" stroke-width="0.2">1300.0</text>
<text x="964.90" y="312.79" font-size="9.4" textLength="25.90" lengthAdjust="spacingAndGlyphs" fill="#131722" font-weight="normal" stroke="#131722" stroke-width="0.2">1200.0</text>
<text x="964.90" y="337.33" font-size="9.4" textLength="25.90" lengthAdjust="spacingAndGlyphs" fill="#131722" font-weight="normal" stroke="#131722" stroke-width="0.2">1100.0</text>
<text x="964.90" y="361.87" font-size="9.4" textLength="25.90" lengthAdjust="spacingAndGlyphs" fill="#131722" font-weight="normal" stroke="#131722" stroke-width="0.2">1000.0</text>
<text x="964.90" y="386.41" font-size="9.4" textLength="21.70" lengthAdjust="spacingAndGlyphs" fill="#131722" font-weight="normal" stroke="#131722" stroke-width="0.2">900.0</text>
<text x="964.90" y="410.95" font-size="9.4" textLength="21.70" lengthAdjust="spacingAndGlyphs" fill="#131722" font-weight="normal" stroke="#131722" stroke-width="0.2">800.0</text>
<text x="964.90" y="435.49" font-size="9.4" textLength="21.70" lengthAdjust="spacingAndGlyphs" fill="#131722" font-weight="normal" stroke="#131722" stroke-width="0.2">700.0</text>
<text x="964.80" y="450.60" font-size="9.4" textLength="21.80" lengthAdjust="spacingAndGlyphs" fill="#131722" font-weight="normal" stroke="#131722" stroke-width="0.2">80.00</text>
<text x="964.80" y="481.80" font-size="9.4" textLength="21.80" lengthAdjust="spacingAndGlyphs" fill="#131722" font-weight="normal" stroke="#131722" stroke-width="0.2">40.00</text>
<text x="36.04" y="505.60" font-size="9.4" textLength="20.20" lengthAdjust="spacingAndGlyphs" fill="#131722" font-weight="normal" stroke="#131722" stroke-width="0.55">2006</text>
<text x="117.60" y="505.60" font-size="9.4" textLength="20.20" lengthAdjust="spacingAndGlyphs" fill="#131722" font-weight="normal" stroke="#131722" stroke-width="0.55">2008</text>
<text x="199.16" y="505.60" font-size="9.4" textLength="20.20" lengthAdjust="spacingAndGlyphs" fill="#131722" font-weight="normal" stroke="#131722" stroke-width="0.55">2010</text>
<text x="280.73" y="505.60" font-size="9.4" textLength="20.20" lengthAdjust="spacingAndGlyphs" fill="#131722" font-weight="normal" stroke="#131722" stroke-width="0.55">2012</text>
<text x="362.29" y="505.60" font-size="9.4" textLength="20.20" lengthAdjust="spacingAndGlyphs" fill="#131722" font-weight="normal" stroke="#131722" stroke-width="0.55">2014</text>
<text x="443.86" y="505.60" font-size="9.4" textLength="20.20" lengthAdjust="spacingAndGlyphs" fill="#131722" font-weight="normal" stroke="#131722" stroke-width="0.55">2016</text>
<text x="525.42" y="505.60" font-size="9.4" textLength="20.20" lengthAdjust="spacingAndGlyphs" fill="#131722" font-weight="normal" stroke="#131722" stroke-width="0.55">2018</text>
<text x="606.98" y="505.60" font-size="9.4" textLength="20.20" lengthAdjust="spacingAndGlyphs" fill="#131722" font-weight="normal" stroke="#131722" stroke-width="0.55">2020</text>
<text x="688.55" y="505.60" font-size="9.4" textLength="20.20" lengthAdjust="spacingAndGlyphs" fill="#131722" font-weight="normal" stroke="#131722" stroke-width="0.55">2022</text>
<text x="770.11" y="505.60" font-size="9.4" textLength="20.20" lengthAdjust="spacingAndGlyphs" fill="#131722" font-weight="normal" stroke="#131722" stroke-width="0.55">2024</text>
<text x="851.68" y="505.60" font-size="9.4" textLength="20.20" lengthAdjust="spacingAndGlyphs" fill="#131722" font-weight="normal" stroke="#131722" stroke-width="0.55">2026</text>
<text x="933.24" y="505.60" font-size="9.4" textLength="20.20" lengthAdjust="spacingAndGlyphs" fill="#131722" font-weight="normal" stroke="#131722" stroke-width="0.55">2028</text>
<text x="964.90" y="11.00" font-size="9.4" textLength="15.00" lengthAdjust="spacingAndGlyphs" fill="#131722" font-weight="normal" stroke="#131722" stroke-width="0.2">USD</text>
<text x="964.80" y="25.60" font-size="9.4" textLength="18.70" lengthAdjust="spacingAndGlyphs" fill="#131722" font-weight="normal" stroke="#131722" stroke-width="0.2">apoz</text>
<path d="M982.2,6.3 l2.1,2.1 l2.1,-2.1" fill="none" stroke="#131722" stroke-width="1.05"/>
<path d="M985.5,20.9 l2.1,2.1 l2.1,-2.1" fill="none" stroke="#131722" stroke-width="1.05"/>
<path d="M914,156.5 H956.2 V169.7 H914 a2,2 0 0 1 -2,-2 V158.5 a2,2 0 0 1 2,-2z" fill="#26a69a"/>
<rect x="957" y="156.5" width="38" height="24.1" fill="#26a69a"/>
<text x="916.90" y="166.70" font-size="9.1" textLength="35.00" lengthAdjust="spacingAndGlyphs" fill="#fff" font-weight="bold" >GCZ2022</text>
<text x="965.80" y="166.70" font-size="9.1" textLength="24.95" lengthAdjust="spacingAndGlyphs" fill="#fff" font-weight="bold" >1796.7</text>
<text x="965.80" y="177.00" font-size="9.1" textLength="24.70" lengthAdjust="spacingAndGlyphs" fill="#fff" font-weight="normal" stroke="#fff" stroke-width="0.2">16d 9h</text>
<text x="5.50" y="14.10" font-size="10.9" textLength="24.10" lengthAdjust="spacingAndGlyphs" fill="#131722" font-weight="normal" stroke="#131722" stroke-width="0.25">Gold</text>
<text x="34.30" y="14.10" font-size="10.9" textLength="38.90" lengthAdjust="spacingAndGlyphs" fill="#131722" font-weight="normal" stroke="#131722" stroke-width="0.25">Futures</text>
<text x="84.20" y="14.10" font-size="10.9" textLength="13.60" lengthAdjust="spacingAndGlyphs" fill="#131722" font-weight="normal" stroke="#131722" stroke-width="0.25">1M</text>
<text x="106.90" y="14.10" font-size="10.9" textLength="36.10" lengthAdjust="spacingAndGlyphs" fill="#131722" font-weight="normal" stroke="#131722" stroke-width="0.25">COMEX</text>
<text x="154.00" y="14.10" font-size="10.9" textLength="63.50" lengthAdjust="spacingAndGlyphs" fill="#131722" font-weight="normal" stroke="#131722" stroke-width="0.25">TradingView</text>
<circle cx="78.5" cy="10.2" r="0.9" fill="#9598a1"/>
<circle cx="101.9" cy="10.2" r="0.9" fill="#9598a1"/>
<circle cx="148.1" cy="10.2" r="0.9" fill="#9598a1"/>
<clipPath id="pill"><rect x="229" y="3.7" width="29.9" height="13.1" rx="6.55"/></clipPath>
<g clip-path="url(#pill)"><rect x="229" y="3" width="15" height="15" fill="#dcf0ee"/><rect x="244" y="3" width="16" height="15" fill="#ffecd6"/></g>
<circle cx="237.1" cy="10.1" r="3.1" fill="#16998b"/>
<text x="247.90" y="13.10" font-size="8.1" textLength="5.40" lengthAdjust="spacingAndGlyphs" fill="#f7861c" font-weight="bold" >D</text>
<text x="271.10" y="14.70" font-size="9.2" textLength="6.50" lengthAdjust="spacingAndGlyphs" fill="#787b86" font-weight="normal" stroke="#787b86" stroke-width="0.2">O</text>
<text x="279.20" y="14.70" font-size="9.2" textLength="27.70" lengthAdjust="spacingAndGlyphs" fill="#26a69a" font-weight="normal" stroke="#26a69a" stroke-width="0.2">1782.5</text>
<text x="312.50" y="14.70" font-size="9.2" textLength="5.60" lengthAdjust="spacingAndGlyphs" fill="#787b86" font-weight="normal" stroke="#787b86" stroke-width="0.2">H</text>
<text x="319.80" y="14.70" font-size="9.2" textLength="27.40" lengthAdjust="spacingAndGlyphs" fill="#26a69a" font-weight="normal" stroke="#26a69a" stroke-width="0.2">1824.6</text>
<text x="353.20" y="14.70" font-size="9.2" textLength="4.20" lengthAdjust="spacingAndGlyphs" fill="#787b86" font-weight="normal" stroke="#787b86" stroke-width="0.2">L</text>
<text x="359.00" y="14.70" font-size="9.2" textLength="28.40" lengthAdjust="spacingAndGlyphs" fill="#26a69a" font-weight="normal" stroke="#26a69a" stroke-width="0.2">1770.0</text>
<text x="392.30" y="14.70" font-size="9.2" textLength="4.80" lengthAdjust="spacingAndGlyphs" fill="#787b86" font-weight="normal" stroke="#787b86" stroke-width="0.2">C</text>
<text x="398.70" y="14.70" font-size="9.2" textLength="28.90" lengthAdjust="spacingAndGlyphs" fill="#26a69a" font-weight="normal" stroke="#26a69a" stroke-width="0.2">1796.7</text>
<text x="432.90" y="14.70" font-size="9.2" textLength="22.90" lengthAdjust="spacingAndGlyphs" fill="#26a69a" font-weight="normal" stroke="#26a69a" stroke-width="0.2">+14.9</text>
<text x="460.10" y="14.70" font-size="9.2" textLength="35.90" lengthAdjust="spacingAndGlyphs" fill="#26a69a" font-weight="normal" stroke="#26a69a" stroke-width="0.2">(+0.84%)</text>
<rect x="5" y="22.7" width="40.4" height="16.7" rx="3" fill="#fff" stroke="#f59a98" stroke-width="1"/>
<text x="11.20" y="34.30" font-size="9.2" textLength="28.40" lengthAdjust="spacingAndGlyphs" fill="#ef5350" font-weight="normal" stroke="#ef5350" stroke-width="0.2">1796.5</text>
<text x="51.70" y="33.90" font-size="7.7" textLength="10.60" lengthAdjust="spacingAndGlyphs" fill="#50535e" font-weight="normal" stroke="#50535e" stroke-width="0.2">0.1</text>
<rect x="69.7" y="22.7" width="40.5" height="16.7" rx="3" fill="#fff" stroke="#7fa3ff" stroke-width="1"/>
<text x="76.00" y="34.30" font-size="9.2" textLength="28.40" lengthAdjust="spacingAndGlyphs" fill="#2962ff" font-weight="normal" stroke="#2962ff" stroke-width="0.2">1796.6</text>
<rect x="3" y="442" width="69" height="13" fill="#fff" opacity="0.55"/>
<text x="5.80" y="452.30" font-size="9.6" textLength="12.30" lengthAdjust="spacingAndGlyphs" fill="#131722" font-weight="normal" stroke="#131722" stroke-width="0.2">RSI</text>
<text x="25.00" y="452.30" font-size="9.6" textLength="23.10" lengthAdjust="spacingAndGlyphs" fill="#7e57c2" font-weight="normal" stroke="#7e57c2" stroke-width="0.2">51.40</text>
<ellipse cx="56.0" cy="448.8" rx="2.2" ry="3.1" fill="none" stroke="#40434d" stroke-width="1"/><line x1="53.7" y1="452.6" x2="58.3" y2="445" stroke="#40434d" stroke-width="0.9"/>
<ellipse cx="67.1" cy="448.8" rx="2.2" ry="3.1" fill="none" stroke="#40434d" stroke-width="1"/><line x1="64.8" y1="452.6" x2="69.39999999999999" y2="445" stroke="#40434d" stroke-width="0.9"/>
<circle cx="16.2" cy="475.1" r="12.3" fill="#fff" stroke="#dfe1e7" stroke-width="0.9"/>
<path d="M8.1,471.2 H16.2 V479.3 H12.1 V474.0 H8.1z" fill="#131722"/><circle cx="17.5" cy="472.55" r="1.2" fill="#131722"/><path d="M20.0,471.2 H24.1 L21.5,479.3 H17.3z" fill="#131722"/>
<circle cx="977.9" cy="501.5" r="3.4" fill="none" stroke="#2a2e39" stroke-width="1.1"/><g fill="#2a2e39"><path d="M981.50,502.50 L981.50,500.50 L983.60,501.50z"/><path d="M979.74,504.75 L981.15,503.34 L981.93,505.53z"/><path d="M976.90,505.10 L978.90,505.10 L977.90,507.20z"/><path d="M974.65,503.34 L976.06,504.75 L973.87,505.53z"/><path d="M974.30,500.50 L974.30,502.50 L972.20,501.50z"/><path d="M976.06,498.25 L974.65,499.66 L973.87,497.47z"/><path d="M978.90,497.90 L976.90,497.90 L977.90,495.80z"/><path d="M981.15,499.66 L979.74,498.25 L981.93,497.47z"/></g>
</svg>
</body></html>
